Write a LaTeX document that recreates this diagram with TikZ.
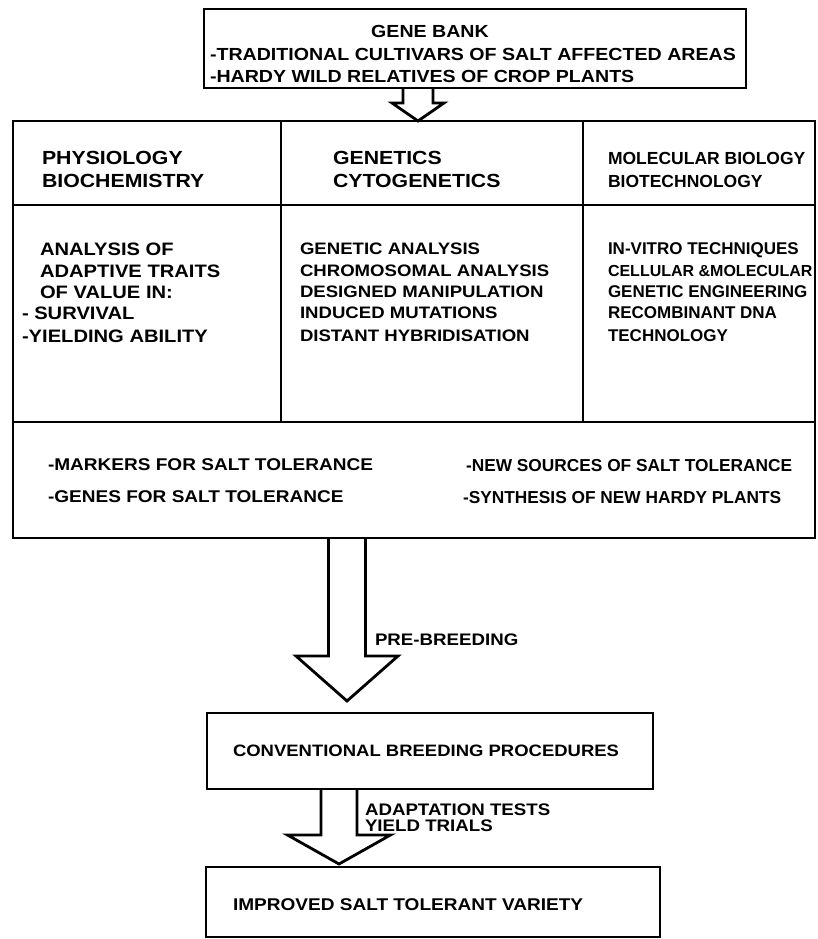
\documentclass[tikz,border=0pt]{standalone}
\usepackage{fontspec}
\usetikzlibrary{calc}
\newfontfamily\hand{Liberation Sans}[FakeStretch=1.12]
\newfontfamily\handn{Liberation Sans}
\tikzset{
  box/.style={draw, rectangle, line width=2.8pt, inner sep=0pt, outer sep=0pt},
  divline/.style={line width=2.8pt},
  harrow/.style={line width=2.8pt, line join=miter, miter limit=4},
  lbl/.style={inner sep=0pt, outer sep=0pt, text depth=0pt, anchor=west},
  fs/.style={font=\hand\bfseries\fontsize{#1}{#1}\selectfont},
  fsn/.style={font=\handn\bfseries\fontsize{#1}{#1}\selectfont},
}
\newcommand\blockarrow[5]{%
  \draw[harrow] let \p1=(#1), \p2=(#2) in
    (\x1-#3pt,\y1) -- (\x1-#3pt,\y2+#5pt) -- (\x1-#4pt,\y2+#5pt) -- (\x1,\y2)
    -- (\x1+#4pt,\y2+#5pt) -- (\x1+#3pt,\y2+#5pt) -- (\x1+#3pt,\y1);
}
\begin{document}
\begin{tikzpicture}[x=1pt,y=-1pt]
\fill[white] (0,0) rectangle (817,939);
\useasboundingbox (0,0) rectangle (817,939);

% boxes
\node[box, minimum width=542pt, minimum height=79pt] (gb) at (475,48.5) {};
\node[box, minimum width=802pt, minimum height=417pt] (mb) at (414,329.5) {};
\node[box, minimum width=446pt, minimum height=76pt] (cb) at (430,751) {};
\node[box, minimum width=454pt, minimum height=70pt] (fb) at (433,902) {};

% inner lines of the big box
\coordinate (hl1) at ($(mb.north west)+(0,84)$);
\coordinate (hr1) at ($(mb.north east)+(0,84)$);
\coordinate (hl2) at ($(mb.north west)+(0,301)$);
\coordinate (hr2) at ($(mb.north east)+(0,301)$);
\coordinate (v1t) at ($(mb.north west)+(268,0)$);
\coordinate (v2t) at ($(mb.north west)+(570,0)$);
\draw[divline] (hl1) -- (hr1);
\draw[divline] (hl2) -- (hr2);
\draw[divline] (v1t) -- (v1t |- hl2);
\draw[divline] (v2t) -- (v2t |- hl2);

% gene bank texts
\node[lbl, fs=17.5, anchor=center] (g0) at (430,31) {GENE BANK};
\node[lbl, fs=17.5] (g1) at (210,54) {-TRADITIONAL CULTIVARS OF SALT AFFECTED AREAS};
\node[lbl, fs=17.5] (g2) at (210,76) {-HARDY WILD RELATIVES OF CROP PLANTS};

% headers
\node[lbl, fs=19] (h11) at (42,158) {PHYSIOLOGY};
\node[lbl, fs=19] (h12) at (42,181) {BIOCHEMISTRY};
\node[lbl, fs=19] (h21) at (333,158) {GENETICS};
\node[lbl, fs=19] (h22) at (333,181) {CYTOGENETICS};
\node[lbl, fsn=17.5] (h31) at (608,158) {MOLECULAR BIOLOGY};
\node[lbl, fsn=17.5] (h32) at (608,181) {BIOTECHNOLOGY};

% column 1
\node[lbl, fs=18] (c11) at (40,249) {ANALYSIS OF};
\node[lbl, fs=18] (c12) at (40,271) {ADAPTIVE TRAITS};
\node[lbl, fs=18] (c13) at (40,292) {OF VALUE IN:};
\node[lbl, fs=18] (c14) at (22,313) {- SURVIVAL};
\node[lbl, fs=18] (c15) at (22,336) {-YIELDING ABILITY};

% column 2
\node[lbl, fs=16.6] (c21) at (300,249) {GENETIC ANALYSIS};
\node[lbl, fs=16.6] (c22) at (300,271) {CHROMOSOMAL ANALYSIS};
\node[lbl, fs=16.6] (c23) at (300,292) {DESIGNED MANIPULATION};
\node[lbl, fs=16.6] (c24) at (300,313) {INDUCED MUTATIONS};
\node[lbl, fs=16.6] (c25) at (300,336) {DISTANT HYBRIDISATION};

% column 3
\node[lbl, fsn=17] (c31) at (608,249) {IN-VITRO TECHNIQUES};
\node[lbl, fsn=16] (c32) at (608,271) {CELLULAR \&MOLECULAR};
\node[lbl, fsn=17] (c33) at (608,292) {GENETIC ENGINEERING};
\node[lbl, fsn=17] (c34) at (608,313) {RECOMBINANT DNA};
\node[lbl, fsn=17] (c35) at (608,336) {TECHNOLOGY};

% bottom section
\node[lbl, fs=17] (b1) at (48,465) {-MARKERS FOR SALT TOLERANCE};
\node[lbl, fs=17] (b2) at (48,497) {-GENES FOR SALT TOLERANCE};
\node[lbl, fsn=17.3] (b3) at (466,465) {-NEW SOURCES OF SALT TOLERANCE};
\node[lbl, fsn=17.3] (b4) at (463,497) {-SYNTHESIS OF NEW HARDY PLANTS};

% lower boxes texts
\node[lbl, fs=16.5] (ct) at (233,751) {CONVENTIONAL BREEDING PROCEDURES};
\node[lbl, fs=17] (ft) at (233,905) {IMPROVED SALT TOLERANT VARIETY};

% arrows
\coordinate (a1s) at ($(gb.south west)+(214,0)$);
\blockarrow{a1s}{mb.north}{15}{26}{18}
\coordinate (a2s) at ($(mb.south west)+(334,0)$);
\coordinate (a2t) at ($(cb.north)+(0,-12)$);
\blockarrow{a2s}{a2t}{18.5}{51}{45}
\coordinate (a3s) at ($(cb.south west)+(132,0)$);
\coordinate (a3t) at ($(fb.north)+(0,-3)$);
\blockarrow{a3s}{a3t}{18}{51.5}{29}

% arrow labels
\node[lbl, fs=16.7] (l1) at (375,640) {PRE-BREEDING};
\node[lbl, fs=16.7] (l2) at (365,810) {ADAPTATION TESTS};
\node[lbl, fs=16.7] (l3) at (365,826) {YIELD TRIALS};
\end{tikzpicture}
\end{document}
